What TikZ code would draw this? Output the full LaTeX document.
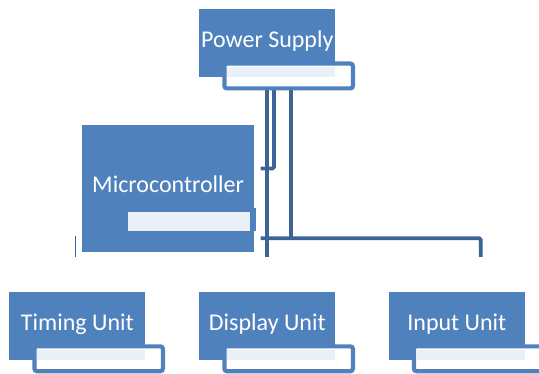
\documentclass[tikz,border=0pt]{standalone}
\usepackage{fontspec}
\setmainfont{Carlito}
\definecolor{boxblue}{HTML}{4F81BD}
\definecolor{connblue}{HTML}{3C6496}
\definecolor{lightfill}{HTML}{EAF0F8}
\newcommand{\unitgroup}[4]{%
  \node[unitbox] (#1) at (#2,#3) {#4};
  \node[tabbox] (#1tab) at (#2+23,#3+52) {};
  \node[lightbar, minimum width=108pt, minimum height=10pt] (#1bar) at (#2+28,#3+57.5) {};
}
\begin{document}
\begin{tikzpicture}[x=1pt,y=-1pt,
  unitbox/.style={fill=boxblue, text=white, inner sep=0pt, outer sep=0pt, anchor=north west,
    minimum width=136pt, minimum height=67.5pt, font=\fontsize{24}{28}\selectfont,
    text height=14pt, text depth=6pt},
  tabbox/.style={draw=boxblue, fill=white, line width=4.2pt, rounded corners=2.5pt,
    inner sep=0pt, outer sep=2.1pt, anchor=north west, minimum width=128.5pt, minimum height=24.8pt},
  lightbar/.style={fill=lightfill, inner sep=0pt, outer sep=0pt, anchor=north west},
  conn/.style={draw=connblue, line width=3.8pt, rounded corners=1.5pt}]
\useasboundingbox (0,0) rectangle (539,374);
\clip (0,0) rectangle (539,374);

% connectors
\coordinate (a1) at (266.7,89);
\coordinate (a2) at (266.7,257);
\coordinate (b1) at (274,89);
\coordinate (b2) at (274,168.5);
\coordinate (b3) at (260.7,168.5);
\coordinate (c1) at (291,89);
\coordinate (c2) at (291,238.3);
\coordinate (d1) at (260.7,238.3);
\coordinate (d2) at (480.7,238.3);
\coordinate (d3) at (480.7,257);
\draw[conn] (a1) -- (a2);
\draw[conn] (b1) -- (b2) -- (b3);
\draw[conn] (c1) -- (c2);
\draw[conn] (d1) -- (d2) -- (d3);

% units
\unitgroup{ps}{199.3}{9.5}{Power Supply}
\unitgroup{tu}{9.3}{292.3}{Timing Unit}
\unitgroup{du}{199.3}{292.3}{Display Unit}
\unitgroup{iu}{388.8}{292.3}{Input Unit}

% microcontroller
\node[unitbox, minimum width=171.7pt, minimum height=127.5pt] (mc) at (82.3,125) {Microcontroller};
\node[lightbar, minimum width=121.7pt, minimum height=18.7pt] (mcbar) at (128.3,212) {};
\coordinate (r1) at (255.2,208);
\coordinate (r2) at (255.2,231);
\draw[boxblue, line width=1.6pt] (r1) -- (r2);
\coordinate (l1) at (75.5,236);
\coordinate (l2) at (75.5,257);
\draw[connblue, line width=1.8pt] (l1) -- (l2);
\end{tikzpicture}
\end{document}
